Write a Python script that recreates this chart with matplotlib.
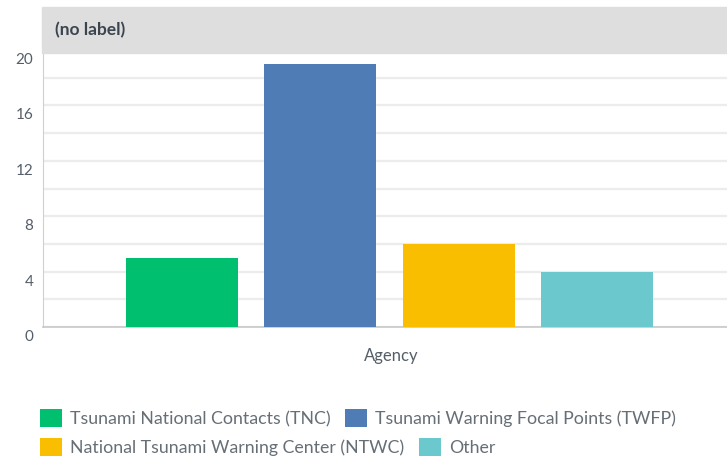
import matplotlib.pyplot as plt
from matplotlib.patches import Patch, Rectangle
from matplotlib.transforms import ScaledTranslation

# dados
categorias = ['Tsunami National Contacts (TNC)', 'Tsunami Warning Focal Points (TWFP)',
              'National Tsunami Warning Center (NTWC)', 'Other']
valores = [5, 19, 6, 4]
cores = ['#00bf6f', '#507cb6', '#f9be00', '#6bc8cd']
yticks = [0, 4, 8, 12, 16, 20]

plt.rcParams['font.family'] = ['Lato', 'DejaVu Sans']
texto = '#555e68'

fig = plt.figure(figsize=(7.27, 4.62), dpi=100)
ax = fig.add_axes([43 / 727, 135 / 462, 684 / 727, 277 / 462])

posicoes = list(range(len(valores)))
ax.bar(posicoes, valores, width=0.81, color=cores, zorder=3)

ax.set_xlim(-1.005, 3.94)
ax.set_ylim(0, 20)
ax.set_yticks(yticks)
ax.set_yticks(range(0, 21, 2), minor=True)
ax.set_yticklabels([str(v) for v in yticks], va='top')
ax.tick_params(axis='y', which='both', length=0, pad=7, labelsize=11, labelcolor=texto)
desloc = ScaledTranslation(0, -3 / 100, fig.dpi_scale_trans)
for lbl in ax.get_yticklabels():
    lbl.set_transform(lbl.get_transform() + desloc)
ax.set_xticks([])
ax.grid(axis='y', which='both', color='#ececec', linewidth=1.6, zorder=0)

for lado in ['top', 'right']:
    ax.spines[lado].set_visible(False)
ax.spines['left'].set_color('#d0d0d0')
ax.spines['bottom'].set_color('#c8c8c8')
ax.spines['bottom'].set_linewidth(1.2)

ax.set_xlabel('Agency', fontsize=12, color=texto)
ax.xaxis.set_label_coords(0.509, -0.075)

# faixa do titulo
fig.patches.append(Rectangle((42 / 727, 409 / 462), 685 / 727, 46 / 462,
                             transform=fig.transFigure, color='#dedede', zorder=5))
fig.text(55 / 727, 432 / 462, '(no label)', fontsize=12.5, fontweight='bold',
         color='#3b4550', va='center', ha='left', zorder=6)

# legenda em duas linhas
handles = [Patch(facecolor=c, edgecolor='none') for c in cores]
linhas = [(0, 2, 44 / 462), (2, 4, 15 / 462)]
for ini, fim, yc in linhas:
    leg = fig.legend(handles[ini:fim], categorias[ini:fim], loc='center left',
                     bbox_to_anchor=(40 / 727, yc), ncol=2, frameon=False,
                     fontsize=12.8, labelcolor='#666e76', handlelength=1.25,
                     handleheight=1.25, handletextpad=0.45, columnspacing=0.8,
                     borderpad=0, borderaxespad=0)

fig.savefig('out.png', dpi=100)
